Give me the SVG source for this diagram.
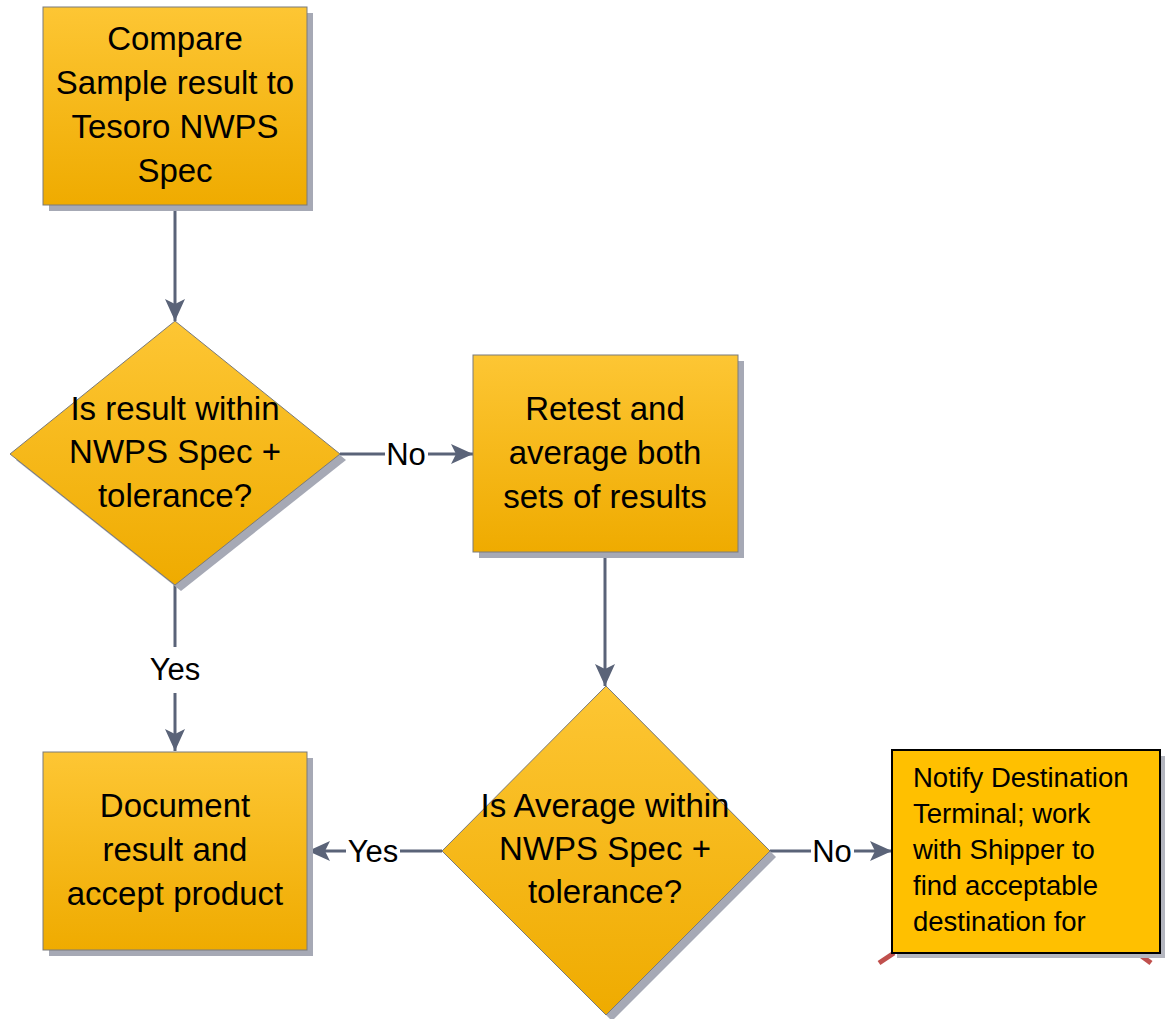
<svg xmlns="http://www.w3.org/2000/svg" width="1166" height="1019" viewBox="0 0 1166 1019">
<defs>
<linearGradient id="g" x1="0" y1="0" x2="0" y2="1">
<stop offset="0" stop-color="#FDC634"/>
<stop offset="1" stop-color="#EFAB00"/>
</linearGradient>
<marker id="ah" markerWidth="24" markerHeight="20" refX="22" refY="10" orient="auto" markerUnits="userSpaceOnUse">
<path d="M0,0 L22,10 L0,20 L5,10 Z" fill="#5A6378"/>
</marker>
<style>
.shape{fill:url(#g);stroke:#7A7A7A;stroke-width:1}
.shadow{fill:#A6A9B5}
.t{font-family:"Liberation Sans",Arial,sans-serif;font-size:33px;fill:#000;text-anchor:middle}
.n{font-family:"Liberation Sans",Arial,sans-serif;font-size:27.5px;fill:#000}
.lbl{font-family:"Liberation Sans",Arial,sans-serif;font-size:31px;fill:#000;text-anchor:middle}
.c{stroke:#5A6378;stroke-width:3;fill:none}
</style>
</defs>
<rect width="1166" height="1019" fill="#fff"/>

<g id="connectors">
<line class="c" x1="175" y1="205" x2="175" y2="321" marker-end="url(#ah)"/>
<line class="c" x1="340" y1="454" x2="385" y2="454"/>
<line class="c" x1="428" y1="454" x2="473" y2="454" marker-end="url(#ah)"/>
<text class="lbl" x="406" y="465">No</text>
<line class="c" x1="175" y1="585" x2="175" y2="647"/>
<line class="c" x1="175" y1="693" x2="175" y2="751" marker-end="url(#ah)"/>
<text class="lbl" x="175" y="680">Yes</text>
<line class="c" x1="605" y1="552" x2="605" y2="686" marker-end="url(#ah)"/>
<line class="c" x1="442" y1="851" x2="400" y2="851"/>
<line class="c" x1="346" y1="851" x2="308" y2="851" marker-end="url(#ah)"/>
<text class="lbl" x="373" y="862">Yes</text>
<line class="c" x1="770" y1="851" x2="811" y2="851"/>
<line class="c" x1="854" y1="851" x2="892" y2="851" marker-end="url(#ah)"/>
<text class="lbl" x="832" y="862">No</text>
</g>

<g id="compare">
<rect class="shadow" x="49" y="13" width="264" height="198"/>
<rect class="shape" x="43" y="7" width="264" height="198"/>
<text class="t" x="175" y="50">Compare</text>
<text class="t" x="175" y="94">Sample result to</text>
<text class="t" x="175" y="138">Tesoro NWPS</text>
<text class="t" x="175" y="182">Spec</text>
</g>

<g id="decision1">
<polygon class="shadow" points="181,327 346,460 181,591 16,460"/>
<polygon class="shape" points="175,321 340,454 175,585 10,454"/>
<text class="t" x="175" y="420">Is result within</text>
<text class="t" x="175" y="463">NWPS Spec +</text>
<text class="t" x="175" y="507">tolerance?</text>
</g>

<g id="retest">
<rect class="shadow" x="479" y="361" width="265" height="197"/>
<rect class="shape" x="473" y="355" width="265" height="197"/>
<text class="t" x="605" y="420">Retest and</text>
<text class="t" x="605" y="464">average both</text>
<text class="t" x="605" y="508">sets of results</text>
</g>

<g id="decision2">
<polygon class="shadow" points="612,692 776,857 612,1021 448,857"/>
<polygon class="shape" points="606,686 770,851 606,1015 442,851"/>
<text class="t" x="605" y="817">Is Average within</text>
<text class="t" x="605" y="860">NWPS Spec +</text>
<text class="t" x="605" y="903">tolerance?</text>
</g>

<g id="document">
<rect class="shadow" x="49" y="758" width="264" height="198"/>
<rect class="shape" x="43" y="752" width="264" height="198"/>
<text class="t" x="175" y="817">Document</text>
<text class="t" x="175" y="861">result and</text>
<text class="t" x="175" y="905">accept product</text>
</g>

<g id="notify">
<line x1="879" y1="963" x2="894" y2="953" stroke="#C0504D" stroke-width="5"/>
<line x1="1136" y1="952" x2="1151" y2="963" stroke="#C0504D" stroke-width="5"/>
<rect x="897" y="756" width="268" height="202" fill="#B4B6BF"/>
<rect x="892" y="750" width="268" height="203" fill="#FFC000" stroke="#000" stroke-width="2"/>
<text class="n" x="913" y="787">Notify Destination</text>
<text class="n" x="913" y="823">Terminal; work</text>
<text class="n" x="913" y="859">with Shipper to</text>
<text class="n" x="913" y="895">find acceptable</text>
<text class="n" x="913" y="931">destination for</text>
</g>
</svg>
